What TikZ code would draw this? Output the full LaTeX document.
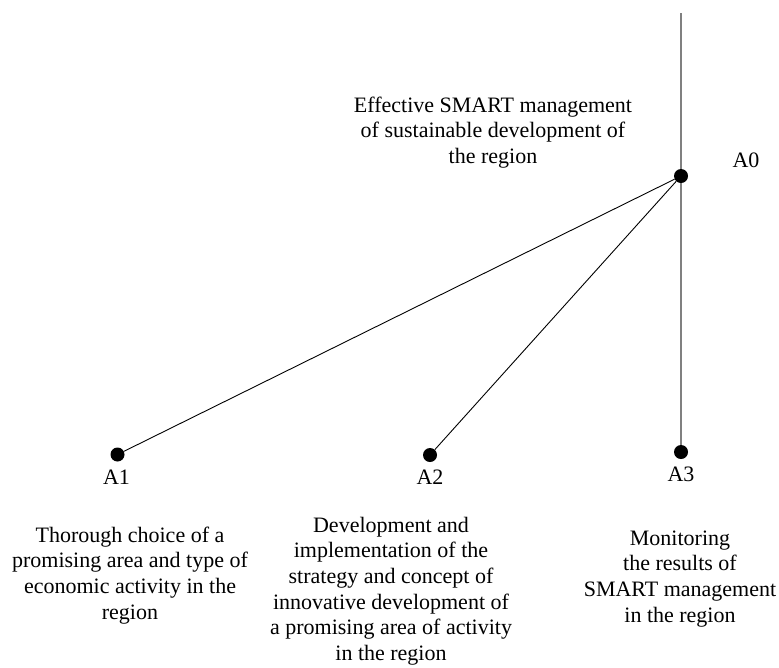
\documentclass[tikz,border=0pt]{standalone}
\usepackage{fontspec}
\setmainfont{Liberation Serif}
\newcommand{\mylines}[1]{\begin{tabular}[t]{@{}c@{}}#1\end{tabular}}
\begin{document}
\begin{tikzpicture}[x=1pt,y=-1pt,
  dot/.style={circle,fill=black,inner sep=0pt,minimum size=14pt},
  txt/.style={anchor=base,inner sep=0pt,font=\fontsize{22}{25.7}\selectfont},
  conn/.style={line width=0.9pt,black},
  axis/.style={line width=1.5pt,black!50}]
\useasboundingbox (0,0) rectangle (779,667);
% dots
\coordinate (top) at (681,13);
\node[dot] (a0) at (681,176) {};
\node[dot] (a1) at (117.5,454.5) {};
\node[dot] (a2) at (430,455) {};
\node[dot] (a3) at (681,452) {};
% connectors
\draw[axis] (top) -- (a0);
\draw[axis] (a0) -- (a3);
\draw[conn] (a0) -- (a1);
\draw[conn] (a0) -- (a2);
% labels
\node[txt] (l0) at (746,167) {A0};
\node[txt] (l1) at (116.5,484) {A1};
\node[txt] (l2) at (430,484) {A2};
\node[txt] (l3) at (681,481) {A3};
% texts
\node[txt] (t0) at (493,112) {\mylines{Effective SMART management\\of sustainable development of\\the region}};
\node[txt] (t1) at (130,542) {\mylines{Thorough choice of a\\promising area and type of\\economic activity in the\\region}};
\node[txt] (t2) at (391,532) {\mylines{Development and\\implementation of the\\strategy and concept of\\innovative development of\\a promising area of activity\\in the region}};
\node[txt] (t3) at (680,545) {\mylines{Monitoring\\the results of\\SMART management\\in the region}};
\end{tikzpicture}
\end{document}
